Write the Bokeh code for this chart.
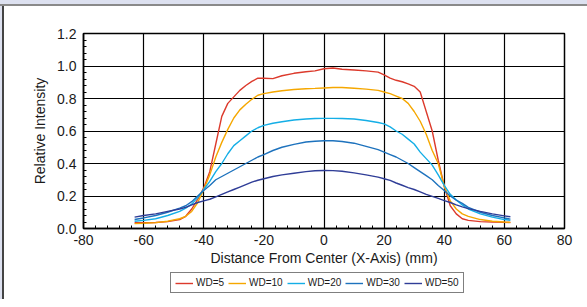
from bokeh.plotting import figure
from bokeh.layouts import column, row
from bokeh.models import Legend, LegendItem, FixedTicker, Range1d, Div
from bokeh.embed import file_html
from bokeh.resources import INLINE

x = [-63, -60, -56, -52, -48, -46, -44, -42, -40, -38, -36, -34, -32, -30, -28, -26, -24, -22, -20,
     -17, -14, -10, -6, -3, 0, 3, 6, 10, 14, 18, 20, 22, 24, 26, 28, 30, 32, 34, 36, 38, 40,
     42, 44, 46, 48, 52, 56, 60, 62]

wd5 = [0.035, 0.035, 0.037, 0.042, 0.055, 0.075, 0.12, 0.18, 0.25, 0.35, 0.52, 0.69, 0.77, 0.81, 0.85, 0.88, 0.905, 0.925, 0.925,
       0.922, 0.94, 0.955, 0.965, 0.97, 0.983, 0.988, 0.98, 0.975, 0.97, 0.962, 0.945, 0.925, 0.912, 0.903, 0.89, 0.875, 0.84, 0.72, 0.60, 0.42, 0.26,
       0.14, 0.09, 0.06, 0.05, 0.042, 0.04, 0.038, 0.037]
wd10 = [0.03, 0.032, 0.036, 0.045, 0.06, 0.075, 0.105, 0.16, 0.24, 0.33, 0.44, 0.53, 0.61, 0.68, 0.73, 0.765, 0.795, 0.82, 0.83,
        0.84, 0.848, 0.855, 0.86, 0.862, 0.865, 0.868, 0.868, 0.863, 0.858, 0.85, 0.84, 0.83, 0.815, 0.80, 0.77, 0.72, 0.66, 0.58, 0.48, 0.40, 0.26,
        0.17, 0.12, 0.09, 0.075, 0.055, 0.045, 0.04, 0.038]
wd20 = [0.045, 0.05, 0.06, 0.08, 0.105, 0.125, 0.15, 0.19, 0.24, 0.29, 0.35, 0.40, 0.46, 0.51, 0.54, 0.57, 0.60, 0.62, 0.635,
        0.648, 0.657, 0.668, 0.674, 0.677, 0.678, 0.678, 0.677, 0.674, 0.665, 0.652, 0.644, 0.625, 0.60, 0.58, 0.55, 0.52, 0.47, 0.43, 0.39, 0.33, 0.265,
        0.21, 0.175, 0.145, 0.12, 0.09, 0.07, 0.055, 0.05]
wd30 = [0.055, 0.065, 0.08, 0.10, 0.125, 0.14, 0.165, 0.20, 0.234, 0.265, 0.30, 0.32, 0.34, 0.36, 0.38, 0.40, 0.42, 0.44, 0.455,
        0.48, 0.50, 0.518, 0.532, 0.537, 0.54, 0.54, 0.535, 0.525, 0.505, 0.485, 0.47, 0.455, 0.44, 0.42, 0.40, 0.375, 0.35, 0.325, 0.30, 0.265, 0.234,
        0.20, 0.175, 0.155, 0.13, 0.10, 0.08, 0.065, 0.058]
wd50 = [0.07, 0.08, 0.09, 0.105, 0.12, 0.13, 0.145, 0.16, 0.17, 0.18, 0.195, 0.21, 0.225, 0.24, 0.255, 0.27, 0.285, 0.297, 0.306,
        0.32, 0.33, 0.34, 0.35, 0.355, 0.357, 0.356, 0.352, 0.342, 0.33, 0.316, 0.306, 0.296, 0.28, 0.266, 0.252, 0.24, 0.225, 0.21, 0.198, 0.185, 0.172,
        0.16, 0.145, 0.133, 0.122, 0.105, 0.09, 0.078, 0.072]

series_names = ["WD=5", "WD=10", "WD=20", "WD=30", "WD=50"]
series_values = [wd5, wd10, wd20, wd30, wd50]
colors = ["#dc3a2c", "#f5a700", "#14aee6", "#1d72bd", "#2f3d97"]

x_ticks = [-80, -60, -40, -20, 0, 20, 40, 60, 80]
x_tick_labels = {v: str(v) for v in x_ticks}
y_ticks = [0.0, 0.2, 0.4, 0.6, 0.8, 1.0, 1.2]
y_tick_labels = {0.0: "0.0", 0.2: "0.2", 0.4: "0.4", 0.6: "0.6", 0.8: "0.8", 1.0: "1.0", 1.2: "1.2"}

FONT = "Liberation Sans"
LAVENDER = "#dde1f0"

p = figure(width=583, height=264, output_backend="svg", toolbar_location=None,
           x_range=Range1d(-80, 80), y_range=Range1d(0, 1.2),
           min_border_left=79, min_border_right=23, min_border_top=27, min_border_bottom=42)
p.background_fill_color = "white"
p.border_fill_color = "white"
p.outline_line_color = "black"
p.outline_line_width = 1.5

p.xaxis.ticker = FixedTicker(ticks=x_ticks, minor_ticks=[v for v in range(-80, 81, 4)])
p.yaxis.ticker = FixedTicker(ticks=y_ticks, minor_ticks=[round(v * 0.04, 2) for v in range(0, 31)])
p.xaxis.major_label_overrides = x_tick_labels
p.yaxis.major_label_overrides = y_tick_labels

for ax in (p.xaxis[0], p.yaxis[0]):
    ax.axis_line_color = "black"
    ax.axis_line_width = 1.5
    ax.major_tick_in = 5
    ax.major_tick_out = 0
    ax.minor_tick_in = 3
    ax.minor_tick_out = 0
    ax.major_tick_line_color = "black"
    ax.minor_tick_line_color = "black"
    ax.major_label_text_font = FONT
    ax.major_label_text_font_size = "14px"
    ax.major_label_text_color = "#1a1a1a"
    ax.axis_label_text_font = FONT
    ax.axis_label_text_font_size = "14px"
    ax.axis_label_text_font_style = "normal"
    ax.axis_label_text_color = "#1a1a1a"

p.xaxis.axis_label = "Distance From Center (X-Axis) (mm)"
p.yaxis.axis_label = "Relative Intensity"
p.xaxis.major_label_standoff = 6
p.yaxis.major_label_standoff = 7
p.xaxis.axis_label_standoff = 2
p.yaxis.axis_label_standoff = 6

p.xgrid.grid_line_color = "black"
p.ygrid.grid_line_color = "black"
p.xgrid.grid_line_width = 1.2
p.ygrid.grid_line_width = 1.2

for name, vals, c in zip(series_names, series_values, colors):
    p.line(x, vals, line_color=c, line_width=1.4)

# separate strip holding the horizontal legend under the chart
lg = figure(width=583, height=29, output_backend="svg", toolbar_location=None,
            x_range=Range1d(0, 1), y_range=Range1d(0, 1),
            min_border_left=0, min_border_right=0, min_border_top=0, min_border_bottom=0)
lg.axis.visible = False
lg.grid.visible = False
lg.outline_line_color = None
lg.background_fill_color = "white"
lg.border_fill_color = "white"

items = []
for name, c in zip(series_names, colors):
    # placeholder line outside the visible range: only its legend glyph shows
    r = lg.line([5, 6], [5, 6], line_color=c, line_width=1.4)
    items.append(LegendItem(label=name, renderers=[r]))

legend = Legend(items=items, orientation="horizontal", location=(87, 6),
                label_text_font=FONT, label_text_font_size="10px",
                label_text_color="#1a1a1a",
                glyph_width=18, glyph_height=10, label_height=10, label_standoff=3,
                spacing=4, padding=4, margin=0,
                border_line_color="black", border_line_width=1,
                background_fill_color="white", background_fill_alpha=1)
lg.add_layout(legend, "center")

# page frame decoration: lavender band with grey rule on top, dark rule on the left
top_band = Div(text="", width=587, height=6, margin=0,
               styles={"background": f"linear-gradient(to bottom, {LAVENDER} 0px, {LAVENDER} 4px, #8a8a8a 4px, #8a8a8a 6px)"})
left_band = Div(text="", width=4, height=293, margin=0,
                styles={"background": f"linear-gradient(to right, {LAVENDER} 0px, {LAVENDER} 2.5px, #444444 2.5px, #444444 4px)"})

layout = column(top_band, row(left_band, column(p, lg, spacing=0), spacing=0), spacing=0)
open("out.html", "w").write(file_html(layout, INLINE))
